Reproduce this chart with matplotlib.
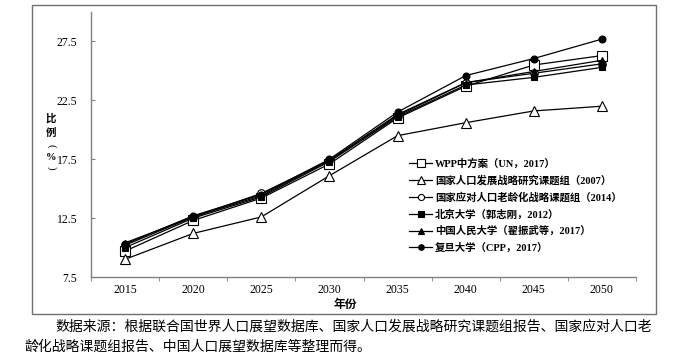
import numpy as np
import matplotlib.pyplot as plt
from matplotlib.patches import Rectangle

plt.rcParams['font.family'] = ['Liberation Serif', 'Noto Sans CJK SC', 'DejaVu Sans']

# Data
years = ['2015', '2020', '2025', '2030', '2035', '2040', '2045', '2050']
wpp = [9.7, 12.3, 14.2, 17.1, 21.0, 23.7, 25.5, 26.3]
cpdrc = [9.0, 11.2, 12.6, 16.1, 19.5, 20.6, 21.6, 22.0]
aging = [10.2, 12.6, 14.6, 17.4, 21.2, 24.0, 24.8, 25.6]
pku = [10.0, 12.5, 14.3, 17.3, 21.1, 23.8, 24.45, 25.3]
ruc = [10.4, 12.6, 14.4, 17.4, 21.3, 24.0, 24.95, 25.9]
fudan = [10.3, 12.7, 14.5, 17.5, 21.5, 24.6, 26.05, 27.7]

labels = ['WPP中方案（UN，2017）',
          '国家人口发展战略研究课题组（2007）',
          '国家应对人口老龄化战略课题组（2014）',
          '北京大学（郭志刚，2012）',
          '中国人民大学（翟振武等，2017）',
          '复旦大学（CPP，2017）']

fig = plt.figure(figsize=(6.77, 3.61), dpi=100)
ax = fig.add_axes([91/677, 1-277/361, (636-91)/677, (277-12)/361])

x = np.arange(len(years))
series = [wpp, cpdrc, aging, pku, ruc, fudan]
styles = [('s', 'white', 7), ('^', 'white', 6.5), ('o', 'white', 5.5),
          ('s', 'black', 5), ('^', 'black', 5), ('o', 'black', 5)]
for vals, (m, fc, ms), lab in zip(series, styles, labels):
    ax.plot(x, vals, color='black', lw=0.9, marker=m, markersize=ms,
            markerfacecolor=fc, markeredgecolor='black', markeredgewidth=0.8,
            label=lab)

ax.set_xlim(-0.5, 7.5)
ax.set_ylim(7.5, 30)
ax.set_yticks([7.5, 12.5, 17.5, 22.5, 27.5])
ax.set_yticklabels(['7.5', '12.5', '17.5', '22.5', '27.5'])
ax.set_xticks(x)
ax.set_xticklabels(years)
ax.set_xticks(np.arange(-0.5, 8, 1), minor=True)
ax.tick_params(axis='x', which='major', length=0, pad=5, labelsize=8.5)
ax.tick_params(axis='x', which='minor', length=3, direction='out', color='#808080')
ax.tick_params(axis='y', length=3, direction='in', color='#808080', pad=10, labelsize=8.5)
for s in ['top', 'right']:
    ax.spines[s].set_visible(False)
for s in ['left', 'bottom']:
    ax.spines[s].set_color('#808080')
    ax.spines[s].set_linewidth(1.0)

leg = ax.legend(loc='upper left', bbox_to_anchor=(405/677, 1-154/361),
                bbox_transform=fig.transFigure, frameon=False,
                prop={'family': ['Liberation Serif', 'Noto Sans CJK SC'], 'weight': 'bold', 'size': 7.5},
                handlelength=2.2, handletextpad=0.3, labelspacing=0.62, borderaxespad=0,
                markerscale=0.8)

# axis labels
fig.text(345/677, 1-304/361, '年份', ha='center', va='center', fontsize=8.5,
         fontweight='bold', family=['Noto Sans CJK SC'])
ylab_font = ['Noto Sans CJK SC', 'DejaVu Sans']
for ch, yy in zip(['比', '例'], [119, 133]):
    fig.text(51/677, 1-yy/361, ch, ha='center', va='center', fontsize=7.5,
             fontweight='bold', family=ylab_font)
fig.text(51/677, 1-146/361, '(', ha='center', va='center', fontsize=8, rotation=270,
         family=['Liberation Serif'])
fig.text(51/677, 1-157/361, '%', ha='center', va='center', fontsize=7.5,
         fontweight='bold', family=['Liberation Serif'])
fig.text(51/677, 1-168/361, ')', ha='center', va='center', fontsize=8, rotation=270,
         family=['Liberation Serif'])

# outer frame
fig.patches.append(Rectangle((32/677, 1-314/361), 624/677, 309/361, transform=fig.transFigure,
                             fill=False, edgecolor='#707070', lw=1.0))

# caption
cap_font = ['Noto Sans CJK SC', 'DejaVu Sans']
fig.text(55/677, 1-327/361, '数据来源：根据联合国世界人口展望数据库、国家人口发展战略研究课题组报告、国家应对人口老',
         ha='left', va='center', fontsize=10, family=cap_font)
fig.text(24/677, 1-347/361, '龄化战略课题组报告、中国人口展望数据库等整理而得。',
         ha='left', va='center', fontsize=10, family=cap_font)

fig.savefig('out.png', dpi=100)
